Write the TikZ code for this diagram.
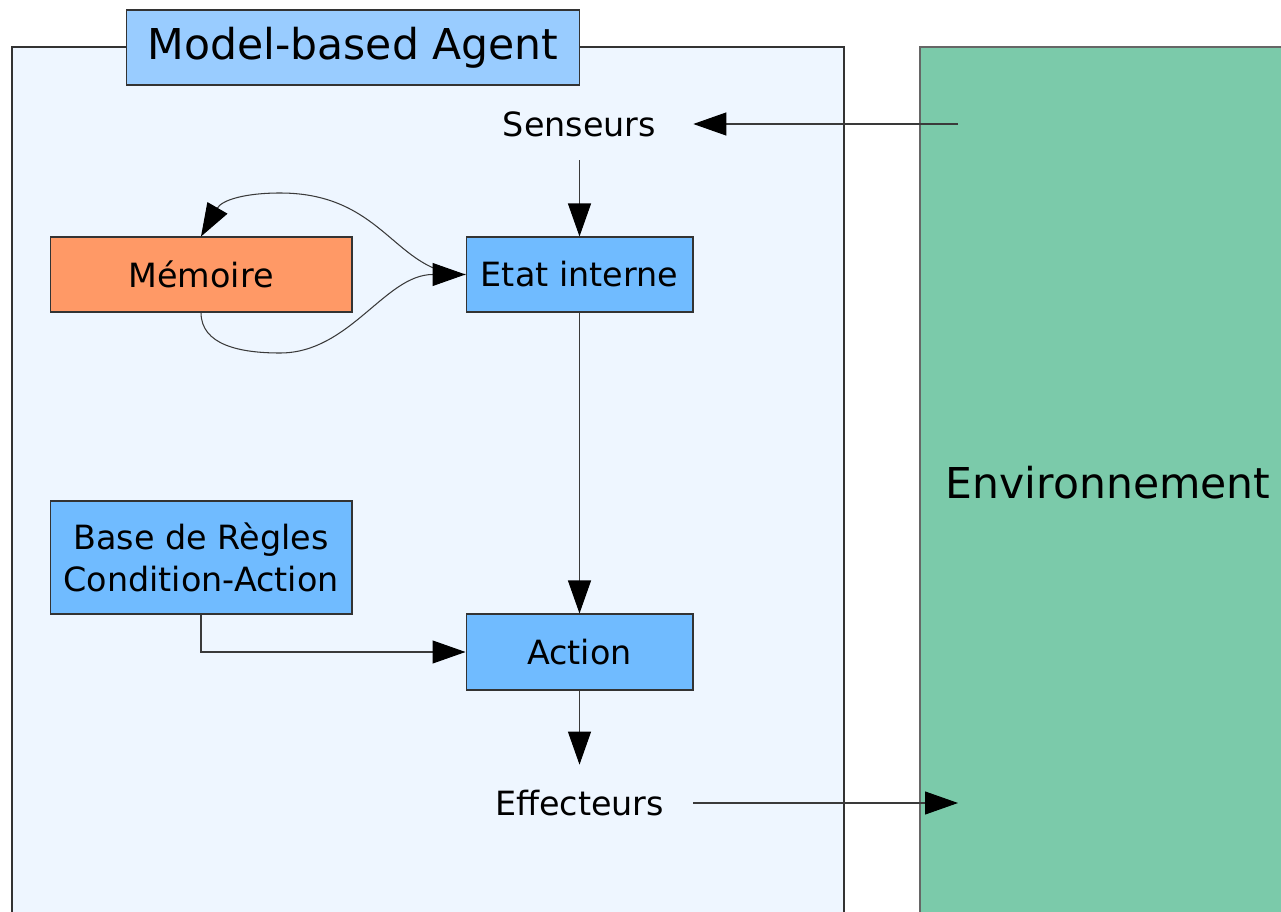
\documentclass[tikz,border=0pt]{standalone}
\usepackage{fontspec}
\setmainfont{DejaVu Sans}
\usetikzlibrary{arrows.meta}
\definecolor{agentfill}{HTML}{EEF6FF}
\definecolor{titlefill}{HTML}{99CCFF}
\definecolor{boxblue}{HTML}{70BBFF}
\definecolor{memfill}{HTML}{FF9966}
\definecolor{envfill}{HTML}{7BCAAA}
\definecolor{edge}{HTML}{333333}
\definecolor{wire}{HTML}{3A3A3A}
\tikzset{
  blockbox/.style={draw=edge, line width=0.6pt, inner sep=0pt, align=center,
    font=\fontsize{19pt}{24pt}\selectfont},
  plainlabel/.style={inner sep=0pt, font=\fontsize{19pt}{24pt}\selectfont},
  bigtext/.style={font=\fontsize{24.2pt}{29pt}\selectfont},
  link/.style={draw=wire, line width=0.6pt,
    -{Triangle[length=0.66cm, width=0.46cm, color=black]}},
}
\begin{document}
\begin{tikzpicture}[x=0.02cm, y=-0.02cm]
\useasboundingbox (0,0) rectangle (1281,912);
\clip (0,0) rectangle (1281,912);

% agent frame and environment panel
\draw[draw=edge, line width=0.6pt, fill=agentfill] (12,47) rectangle (844,950);
\draw[draw=black!60, line width=0.8pt, fill=envfill] (920,47) rectangle (1300,950);
\node[bigtext] (env) at (1108,483) {Environnement};

% title tab
\node[blockbox, bigtext, fill=titlefill, minimum width=9.08cm, minimum height=1.5cm]
  (title) at (353,47.5) {Model-based Agent};

% sensors and effectors
\node[plainlabel, minimum width=4.54cm, minimum height=1.44cm] (sens) at (579.5,124) {Senseurs};
\node[plainlabel, minimum width=4.54cm, minimum height=1.52cm] (eff) at (579.5,803) {Effecteurs};

% internal blocks
\node[blockbox, fill=boxblue, minimum width=4.54cm, minimum height=1.5cm]
  (etat) at (579.5,274.5) {Etat interne};
\node[blockbox, fill=memfill, minimum width=6.04cm, minimum height=1.5cm]
  (mem) at (201,274.5) {Mémoire};
\node[blockbox, fill=boxblue, minimum width=6.04cm, minimum height=2.26cm]
  (rules) at (201,557.5) {Base de Règles\\Condition-Action};
\node[blockbox, fill=boxblue, minimum width=4.54cm, minimum height=1.52cm]
  (act) at (579.5,652) {Action};

\coordinate (envin) at (958,124);
\coordinate (envout) at (958,803);

% connectors
\draw[link] (envin) -- (sens.east);
\draw[link] (sens.south) -- (etat.north);
\draw[link] (etat.south) -- (act.north);
\draw[link] (rules.south) |- (act.west);
\draw[link] (act.south) -- (eff.north);
\draw[link] (eff.east) -- (envout);

% memory loop
\draw[link] (etat.west) .. controls (395,274.5) and (385,193) .. (280,193)
  .. controls (245,193) and (222,200) .. (mem.north);
\draw[link] (mem.south) .. controls (201,345) and (240,353) .. (280,353)
  .. controls (350,353) and (385,274.5) .. (etat.west);
\end{tikzpicture}
\end{document}
